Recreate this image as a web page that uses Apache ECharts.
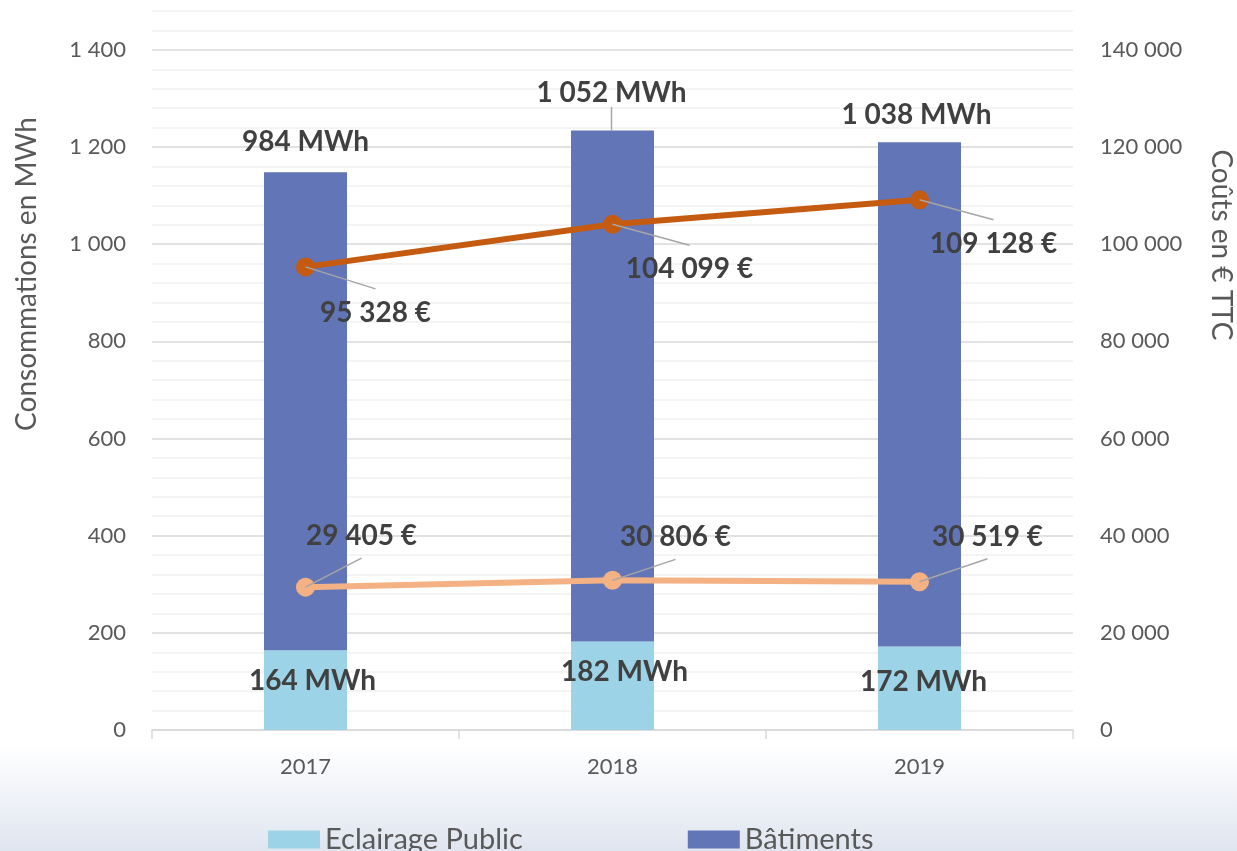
<!DOCTYPE html>
<html lang="fr">
<head>
    <meta charset="UTF-8">
    <title>Consommations et coûts</title>
</head>
<style>
    body{
        margin: 0;
        padding: 0;
        background: linear-gradient(to bottom, #ffffff 0px, #ffffff 745px, #f2f4f9 790px, #dfe5ef 851px);
    }
    .main{
        width: 1237px;
        height: 851px;
    }
</style>
<body>
    <div class="main"></div>
</body>
<script src="https://cdn.jsdelivr.net/npm/echarts/dist/echarts.min.js"></script>
<script>
  // données
  var annees = ['2017', '2018', '2019'];
  var eclairage = [164, 182, 172];          // MWh
  var batiments = [984, 1052, 1038];        // MWh
  var coutsBatiments = [95328, 104099, 109128]; // € TTC
  var coutsEclairage = [29405, 30806, 30519];   // € TTC

  // décalage des étiquettes (dx, dy) par point
  var decalEclairage = [[7, -9], [12, -14], [4, -6]];
  var decalBatiments = [[0, -269], [-1, -293], [-3, -279]];
  var decalCoutsBat = [[70, 46], [77, 45], [74, 44]];
  var decalCoutsEcl = [[56, -51], [63, -43], [68, -45]];

  var police = 'Lato, "Noto Sans", sans-serif';
  var gris = '#595959';

  function fmt(v){
    return String(v).replace(/\B(?=(\d{3})+(?!\d))/g, ' ');
  }
  function decal(tab){
    return function(p){ return {dx: tab[p.dataIndex][0], dy: tab[p.dataIndex][1]}; };
  }

  // traits de rappel : du point vers le bord de l'étiquette
  function rappel(valeurs, tab){
    return {
      type: 'custom',
      yAxisIndex: 1,
      z: 6,
      silent: true,
      data: valeurs.map(function(v, i){ return [i, v]; }),
      encode: {x: 0, y: 1},
      renderItem: function(params, api){
        var p = api.coord([api.value(0), api.value(1)]);
        var d = tab[params.dataIndex];
        var fin = [p[0] + d[0], p[1] + d[1] + (d[1] > 0 ? -24 : 22)];
        return {
          type: 'line',
          shape: {x1: p[0], y1: p[1], x2: fin[0], y2: fin[1]},
          style: {stroke: '#a6a6a6', lineWidth: 1.5}
        };
      }
    };
  }

  var etiquette = {
    show: true,
    position: 'inside',
    color: '#404040',
    fontFamily: police,
    fontWeight: 'bold',
    fontSize: 28
  };

  var myChart = echarts.init(document.querySelector('.main'));
  var option = {
    animation: false,
    textStyle: {fontFamily: police},
    grid: {left: 152, right: 164, top: 11, bottom: 121},
    legend: {
      data: ['Eclairage Public', 'Bâtiments'],
      left: 263,
      top: 820,
      icon: 'rect',
      itemWidth: 52,
      itemHeight: 18,
      itemGap: 165,
      textStyle: {color: gris, fontSize: 29, fontFamily: police}
    },
    xAxis: {
      type: 'category',
      data: annees,
      axisLine: {lineStyle: {color: '#d9d9d9', width: 1.5}},
      axisTick: {show: true, length: 9, lineStyle: {color: '#d9d9d9', width: 1.5}},
      axisLabel: {color: gris, fontSize: 22, margin: 26}
    },
    yAxis: [
      {
        type: 'value',
        min: 0,
        max: 1480,
        interval: 40,
        axisLine: {show: false},
        axisTick: {show: false},
        axisLabel: {
          color: gris,
          fontSize: 22,
          margin: 26,
          formatter: function(v){ return (v % 200 === 0 && v <= 1400) ? fmt(v) : ''; }
        },
        splitLine: {lineStyle: {color: ['#d9d9d9', '#f0f0f0', '#f0f0f0', '#f0f0f0', '#f0f0f0'], width: 1.5}}
      },
      {
        type: 'value',
        min: 0,
        max: 148000,
        interval: 20000,
        axisLine: {show: false},
        axisTick: {show: false},
        splitLine: {show: false},
        axisLabel: {
          color: gris,
          fontSize: 22,
          margin: 27,
          showMaxLabel: false,
          formatter: function(v){ return v <= 140000 ? fmt(v) : ''; }
        }
      }
    ],
    graphic: [
      {
        type: 'text', x: 27, y: 274, rotation: Math.PI / 2,
        style: {text: 'Consommations en MWh', fill: gris, font: '28px ' + police, align: 'center', verticalAlign: 'middle'}
      },
      {
        type: 'text', x: 1221, y: 245, rotation: -Math.PI / 2,
        style: {text: 'Coûts en € TTC', fill: gris, font: '28px ' + police, align: 'center', verticalAlign: 'middle'}
      }
    ],
    series: [
      {
        name: 'Eclairage Public',
        type: 'bar',
        stack: 'conso',
        barWidth: 83,
        data: eclairage,
        itemStyle: {color: '#9dd3e7'},
        label: Object.assign({}, etiquette, {formatter: function(p){ return fmt(p.value) + ' MWh'; }}),
        labelLayout: decal(decalEclairage)
      },
      {
        name: 'Bâtiments',
        type: 'bar',
        stack: 'conso',
        barWidth: 83,
        data: batiments.map(function(v, i){
          return {value: v, labelLine: {show: i === 1}};
        }),
        itemStyle: {color: '#6275b6'},
        label: Object.assign({}, etiquette, {formatter: function(p){ return fmt(p.value) + ' MWh'; }}),
        labelLine: {length2: 0, lineStyle: {color: '#a6a6a6', width: 1.5}},
        labelLayout: decal(decalBatiments)
      },
      {
        name: 'Coûts Bâtiments',
        type: 'line',
        yAxisIndex: 1,
        data: coutsBatiments,
        symbol: 'circle',
        symbolSize: 19,
        itemStyle: {color: '#c55a11'},
        lineStyle: {color: '#c55a11', width: 6},
        label: Object.assign({}, etiquette, {formatter: function(p){ return fmt(p.value) + ' €'; }}),
        labelLayout: decal(decalCoutsBat),
        z: 5
      },
      {
        name: 'Coûts Eclairage Public',
        type: 'line',
        yAxisIndex: 1,
        data: coutsEclairage,
        symbol: 'circle',
        symbolSize: 19,
        itemStyle: {color: '#f4b183'},
        lineStyle: {color: '#f4b183', width: 6},
        label: Object.assign({}, etiquette, {formatter: function(p){ return fmt(p.value) + ' €'; }}),
        labelLayout: decal(decalCoutsEcl),
        z: 5
      },
      rappel(coutsBatiments, decalCoutsBat),
      rappel(coutsEclairage, decalCoutsEcl)
    ]
  };
  myChart.setOption(option);
</script>
</html>
